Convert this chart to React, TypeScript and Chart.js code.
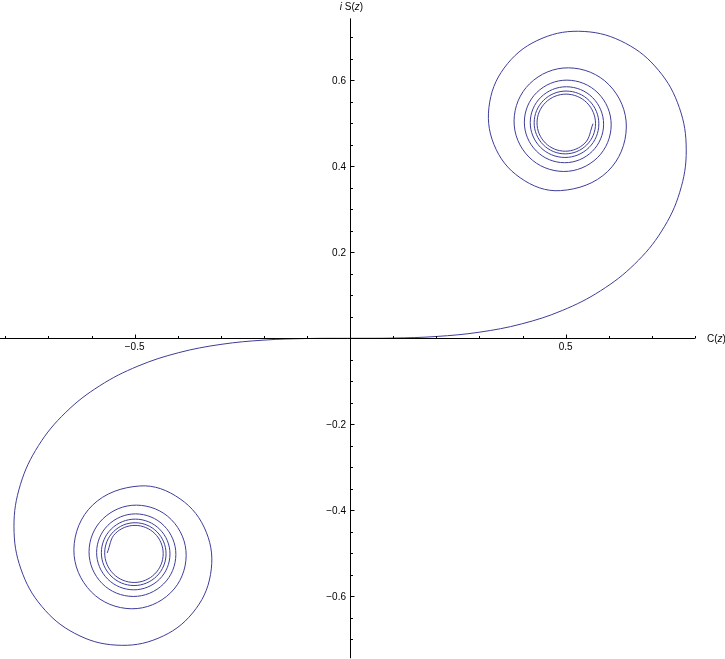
import React, { useEffect, useRef } from "react";
import { Chart, registerables } from "chart.js";

Chart.register(...registerables);

// Cornu spiral: arm for t >= 0 (C(t), i S(t))
const posC = [
  0, 0.09999, 0.19992, 0.2994, 0.39748, 0.49234, 0.5811, 0.65965, 0.72284, 0.76482,
  0.77989, 0.76381, 0.71544, 0.63855, 0.5431, 0.44526, 0.36546, 0.32383, 0.33363, 0.39447,
  0.48825, 0.59767, 0.64087, 0.60046, 0.50665, 0.41649, 0.38038, 0.41482, 0.49562, 0.57406,
  0.60572, 0.57519, 0.50316, 0.43281, 0.40427, 0.43197, 0.49759, 0.56193, 0.58813, 0.56259,
  0.50192, 0.44226, 0.41792, 0.44173, 0.49843, 0.55429, 0.57712, 0.55473, 0.50132, 0.44861,
  0.42704, 0.44824, 0.49887, 0.54891, 0.56941, 0.54923, 0.50098, 0.45325, 0.43367, 0.45297,
  0.49914, 0.54486, 0.56363,
];
const posS = [
  0, 0.00052, 0.00419, 0.01412, 0.03336, 0.06473, 0.11054, 0.17214, 0.24934, 0.33977,
  0.43826, 0.5365, 0.6234, 0.68633, 0.71353, 0.6975, 0.63889, 0.5492, 0.45094, 0.37335,
  0.34342, 0.38809, 0.49135, 0.58979, 0.62896, 0.59189, 0.50532, 0.42163, 0.38797, 0.42027,
  0.49631, 0.57037, 0.60035, 0.57135, 0.50274, 0.4356, 0.40831, 0.43486, 0.49786, 0.55973,
  0.58494, 0.56031, 0.50173, 0.44407, 0.42052, 0.44359, 0.49856, 0.55278, 0.57496, 0.55318,
  0.50122, 0.4499, 0.42888, 0.44956, 0.49895, 0.5478, 0.56782, 0.54809, 0.50092, 0.45422,
  0.43506, 0.45396, 0.49919,
];
// arm for t <= 0
const negC = [
  0, -0.09999, -0.19992, -0.2994, -0.39748, -0.49234, -0.5811, -0.65965, -0.72284, -0.76482,
  -0.77989, -0.76381, -0.71544, -0.63855, -0.5431, -0.44526, -0.36546, -0.32383, -0.33363, -0.39447,
  -0.48825, -0.59767, -0.64087, -0.60046, -0.50665, -0.41649, -0.38038, -0.41482, -0.49562, -0.57406,
  -0.60572, -0.57519, -0.50316, -0.43281, -0.40427, -0.43197, -0.49759, -0.56193, -0.58813, -0.56259,
  -0.50192, -0.44226, -0.41792, -0.44173, -0.49843, -0.55429, -0.57712, -0.55473, -0.50132, -0.44861,
  -0.42704, -0.44824, -0.49887, -0.54891, -0.56941, -0.54923, -0.50098, -0.45325, -0.43367, -0.45297,
  -0.49914, -0.54486, -0.56363,
];
const negS = [
  0, -0.00052, -0.00419, -0.01412, -0.03336, -0.06473, -0.11054, -0.17214, -0.24934, -0.33977,
  -0.43826, -0.5365, -0.6234, -0.68633, -0.71353, -0.6975, -0.63889, -0.5492, -0.45094, -0.37335,
  -0.34342, -0.38809, -0.49135, -0.58979, -0.62896, -0.59189, -0.50532, -0.42163, -0.38797, -0.42027,
  -0.49631, -0.57037, -0.60035, -0.57135, -0.50274, -0.4356, -0.40831, -0.43486, -0.49786, -0.55973,
  -0.58494, -0.56031, -0.50173, -0.44407, -0.42052, -0.44359, -0.49856, -0.55278, -0.57496, -0.55318,
  -0.50122, -0.4499, -0.42888, -0.44956, -0.49895, -0.5478, -0.56782, -0.54809, -0.50092, -0.45422,
  -0.43506, -0.45396, -0.49919,
];

const xMajorTicks = [-0.5, 0.5];
const xMajorLabels = ["\u22120.5", "0.5"];
const xMinorTicks = [-0.8, -0.7, -0.6, -0.4, -0.3, -0.2, -0.1, 0.1, 0.2, 0.3, 0.4, 0.6, 0.7, 0.8];
const yMajorTicks = [-0.6, -0.4, -0.2, 0.2, 0.4, 0.6];
const yMajorLabels = ["\u22120.6", "\u22120.4", "\u22120.2", "0.2", "0.4", "0.6"];
const yMinorTicks = [
  -0.7, -0.65, -0.55, -0.5, -0.45, -0.35, -0.3, -0.25, -0.15, -0.1, -0.05,
  0.05, 0.1, 0.15, 0.25, 0.3, 0.35, 0.45, 0.5, 0.55, 0.65, 0.7,
];
const xAxisExtent = [-0.8123, 0.8];
const yAxisExtent = [-0.744, 0.744];

const W = 725;
const H = 659;
const CURVE = "#3d3d99";
const FONT = "10px 'Liberation Sans', Arial, sans-serif";
const FONT_I = "italic 10px 'Liberation Sans', Arial, sans-serif";

type Seg = { t: string; f: string };

function drawRich(ctx: CanvasRenderingContext2D, segs: Seg[], x: number, y: number, align: "left" | "center") {
  let total = 0;
  const widths = segs.map((s) => {
    ctx.font = s.f;
    const w = ctx.measureText(s.t).width;
    total += w;
    return w;
  });
  let cx = align === "center" ? x - total / 2 : x;
  ctx.textAlign = "left";
  segs.forEach((s, i) => {
    ctx.font = s.f;
    ctx.fillText(s.t, cx, y);
    cx += widths[i];
  });
}

const axesPlugin = {
  id: "mmaAxes",
  afterDatasetsDraw(chart: any) {
    const ctx: CanvasRenderingContext2D = chart.ctx;
    const xs = chart.scales.x;
    const ys = chart.scales.y;
    const X = (v: number) => xs.getPixelForValue(v);
    const Y = (v: number) => ys.getPixelForValue(v);
    const ax = Math.round(X(0)) + 0.5;
    const ay = Math.round(Y(0)) + 0.5;
    ctx.save();
    ctx.strokeStyle = "#000";
    ctx.lineWidth = 1;
    ctx.beginPath();
    ctx.moveTo(X(xAxisExtent[0]), ay);
    ctx.lineTo(X(xAxisExtent[1]), ay);
    ctx.moveTo(ax, Y(yAxisExtent[1]));
    ctx.lineTo(ax, Y(yAxisExtent[0]));
    xMajorTicks.forEach((v) => {
      const p = Math.round(X(v)) + 0.5;
      ctx.moveTo(p, ay);
      ctx.lineTo(p, ay - 4);
    });
    xMinorTicks.forEach((v) => {
      const p = Math.round(X(v)) + 0.5;
      ctx.moveTo(p, ay);
      ctx.lineTo(p, ay - 2.5);
    });
    yMajorTicks.forEach((v) => {
      const p = Math.round(Y(v)) + 0.5;
      ctx.moveTo(ax, p);
      ctx.lineTo(ax + 4, p);
    });
    yMinorTicks.forEach((v) => {
      const p = Math.round(Y(v)) + 0.5;
      ctx.moveTo(ax, p);
      ctx.lineTo(ax + 2.5, p);
    });
    ctx.stroke();

    ctx.fillStyle = "#000";
    ctx.font = FONT;
    ctx.textBaseline = "alphabetic";
    ctx.textAlign = "center";
    xMajorTicks.forEach((v, i) => {
      ctx.fillText(xMajorLabels[i], X(v), ay + 11.5);
    });
    ctx.textAlign = "right";
    yMajorTicks.forEach((v, i) => {
      ctx.fillText(yMajorLabels[i], ax - 4.5, Y(v) + 3.5);
    });
    drawRich(
      ctx,
      [
        { t: "C(", f: FONT },
        { t: "z", f: FONT_I },
        { t: ")", f: FONT },
      ],
      X(xAxisExtent[1]) + 12,
      ay + 3,
      "left"
    );
    drawRich(
      ctx,
      [
        { t: "i", f: FONT_I },
        { t: " S(", f: FONT },
        { t: "z", f: FONT_I },
        { t: ")", f: FONT },
      ],
      ax + 1,
      Y(yAxisExtent[1]) - 8.5,
      "center"
    );
    ctx.restore();
  },
};

export default function App() {
  const ref = useRef<HTMLCanvasElement | null>(null);
  useEffect(() => {
    if (!ref.current) return;
    const posArm = posC.map((c, i) => ({ x: c, y: posS[i] }));
    const negArm = negC.map((c, i) => ({ x: c, y: negS[i] }));
    const chart = new Chart(ref.current, {
      type: "scatter",
      data: {
        datasets: [
          { data: posArm, showLine: true, borderColor: CURVE, borderWidth: 1, pointRadius: 0, tension: 0.375, fill: false },
          { data: negArm, showLine: true, borderColor: CURVE, borderWidth: 1, pointRadius: 0, tension: 0.375, fill: false },
        ],
      },
      options: {
        animation: false,
        responsive: false,
        maintainAspectRatio: false,
        devicePixelRatio: 1,
        events: [],
        layout: { padding: 0 },
        plugins: { legend: { display: false }, tooltip: { enabled: false } },
        scales: {
          x: { type: "linear", min: -0.8123, max: 0.8698, display: false },
          y: { type: "linear", min: -0.7458, max: 0.7867, display: false },
        },
      },
      plugins: [axesPlugin],
    } as any);
    return () => chart.destroy();
  }, []);
  return (
    <div style={{ position: "absolute", left: 0, top: 0, width: W, height: H, background: "#fff" }}>
      <canvas ref={ref} width={W} height={H} style={{ display: "block", width: W, height: H }} />
    </div>
  );
}
